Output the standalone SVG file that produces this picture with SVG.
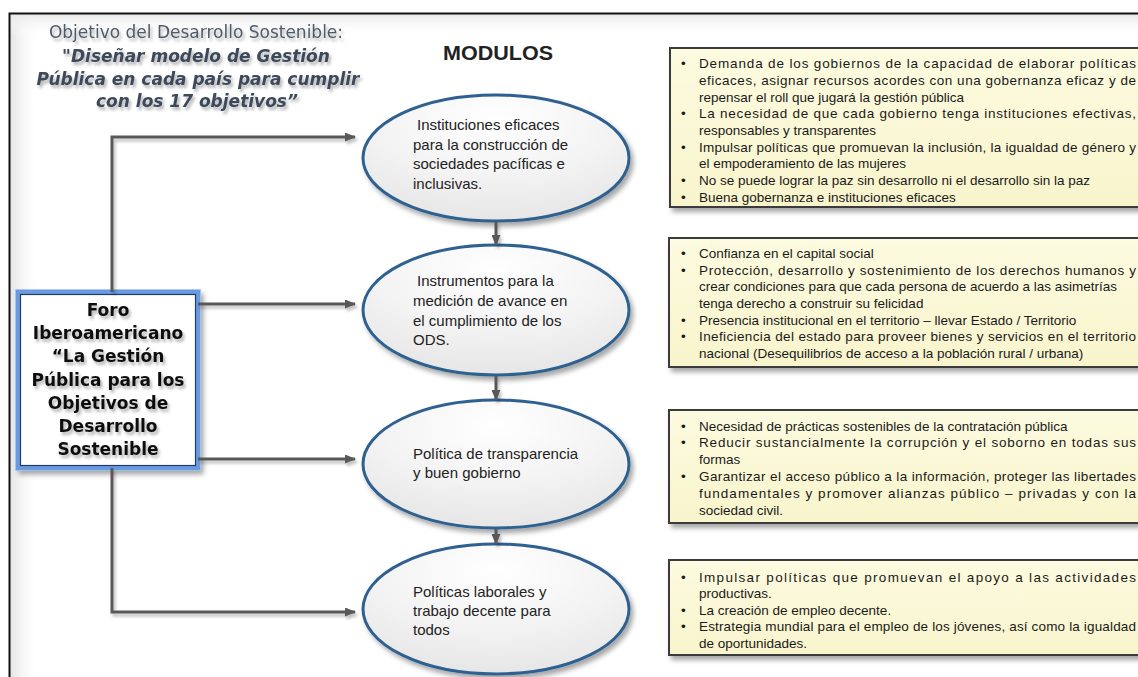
<svg xmlns="http://www.w3.org/2000/svg" width="1138" height="677" viewBox="0 0 1138 677">
<style>
.ttl{font-family:"DejaVu Sans",Verdana,sans-serif;font-size:17px;text-anchor:middle}
.ttl1{fill:#4d5b6b}
.ttl2{fill:#3e4a5a;font-weight:bold;font-style:oblique}
.foro{font-family:"DejaVu Sans",Verdana,sans-serif;font-size:17px;font-weight:bold;fill:#111;text-anchor:middle}
.el{font-family:"Liberation Sans",Arial,sans-serif;font-size:15px;fill:#222}
.bx{font-family:"Liberation Sans",Arial,sans-serif;font-size:13.5px;fill:#1a1a1a}
.ellipse{fill:url(#elg);stroke:#2f6090;stroke-width:3}
.box{fill:url(#bxg);stroke:#3a3a3a;stroke-width:2}
.conn{fill:none;stroke:#595959;stroke-width:3}
</style>
<defs>
<radialGradient id="elg" cx="0.5" cy="0.2" r="0.8">
<stop offset="0" stop-color="#ffffff"/>
<stop offset="0.6" stop-color="#f2f2f2"/>
<stop offset="1" stop-color="#e6e6e6"/>
</radialGradient>
<linearGradient id="bxg" x1="0" y1="0" x2="0" y2="1">
<stop offset="0" stop-color="#fdfbe0"/>
<stop offset="1" stop-color="#f8f4cc"/>
</linearGradient>
<linearGradient id="bgl" x1="0" y1="0" x2="1" y2="0">
<stop offset="0" stop-color="#e4e4e4"/>
<stop offset="1" stop-color="#ffffff" stop-opacity="0"/>
</linearGradient>
<linearGradient id="bgt" x1="0" y1="0" x2="0" y2="1">
<stop offset="0" stop-color="#e8e8e8"/>
<stop offset="1" stop-color="#ffffff" stop-opacity="0"/>
</linearGradient>
<filter id="sh" x="-10%" y="-10%" width="130%" height="140%">
<feDropShadow dx="3" dy="4" stdDeviation="2.5" flood-color="#000" flood-opacity="0.35"/>
</filter>
<filter id="tsh" x="-10%" y="-30%" width="120%" height="180%">
<feDropShadow dx="2" dy="3" stdDeviation="1.6" flood-color="#000" flood-opacity="0.3"/>
</filter>
<filter id="csh" x="-10%" y="-10%" width="130%" height="130%">
<feDropShadow dx="2" dy="3" stdDeviation="1.5" flood-color="#000" flood-opacity="0.25"/>
</filter>
<marker id="arr" markerUnits="userSpaceOnUse" markerWidth="11" markerHeight="9" refX="10" refY="4.5" orient="auto">
<path d="M0,0 L11,4.5 L0,9 z" fill="#595959"/>
</marker>
</defs>
<rect x="0" y="0" width="1138" height="677" fill="#ffffff"/>
<rect x="10" y="14" width="30" height="663" fill="url(#bgl)"/>
<rect x="10" y="14" width="1128" height="22" fill="url(#bgt)"/>
<path d="M9.5,677 V13.5 H1138" fill="none" stroke="#111" stroke-width="2"/>

<g id="title" filter="url(#tsh)">
<text class="ttl ttl1" x="196" y="38">Objetivo del Desarrollo Sostenible:</text>
<text class="ttl ttl2" x="196" y="62">"Diseñar modelo de Gestión</text>
<text class="ttl ttl2" x="198" y="85">Pública en cada país para cumplir</text>
<text class="ttl ttl2" x="197" y="107">con los 17 objetivos”</text>
</g>

<g id="modulos">
<text x="498" y="60" text-anchor="middle" font-family="Liberation Sans, Arial, sans-serif" font-size="21" font-weight="bold" fill="#222" textLength="110" lengthAdjust="spacingAndGlyphs">MODULOS</text>
</g>

<g id="foro">
<rect x="18" y="292" width="180" height="176" fill="#ffffff" stroke="#6b9be0" stroke-width="5" filter="url(#sh)"/>
<rect x="15.5" y="289.5" width="185" height="181" fill="none" stroke="#a9c6ef" stroke-width="1" opacity="0.7"/>
<rect x="20.5" y="294.5" width="175" height="171" fill="none" stroke="#233a63" stroke-width="1.2"/>
<g filter="url(#tsh)">
<text class="foro" x="108" y="316">Foro</text>
<text class="foro" x="108" y="339">Iberoamericano</text>
<text class="foro" x="108" y="362">“La Gestión</text>
<text class="foro" x="108" y="386">Pública para los</text>
<text class="foro" x="108" y="409">Objetivos de</text>
<text class="foro" x="108" y="432">Desarrollo</text>
<text class="foro" x="108" y="455">Sostenible</text>
</g>
</g>

<g id="e1">
<ellipse class="ellipse" cx="496" cy="158" rx="133" ry="63" filter="url(#sh)"/>
<text class="el" x="417" y="130">Instituciones eficaces</text>
<text class="el" x="413" y="150">para la construcción de</text>
<text class="el" x="413" y="169">sociedades pacíficas e</text>
<text class="el" x="413" y="189">inclusivas.</text>
</g>
<g id="e2">
<ellipse class="ellipse" cx="496" cy="310" rx="133" ry="65" filter="url(#sh)"/>
<text class="el" x="417" y="286">Instrumentos para la</text>
<text class="el" x="413" y="306">medición de avance en</text>
<text class="el" x="413" y="326">el cumplimiento de los</text>
<text class="el" x="413" y="345">ODS.</text>
</g>
<g id="e3">
<ellipse class="ellipse" cx="496" cy="464" rx="133" ry="64" filter="url(#sh)"/>
<text class="el" x="413" y="459">Política de transparencia</text>
<text class="el" x="413" y="478">y buen gobierno</text>
</g>
<g id="e4">
<ellipse class="ellipse" cx="496" cy="609" rx="133" ry="65" filter="url(#sh)"/>
<text class="el" x="413" y="597">Políticas laborales y</text>
<text class="el" x="413" y="616">trabajo decente para</text>
<text class="el" x="413" y="635">todos</text>
</g>

<g id="b1">
<rect class="box" x="670" y="48" width="480" height="159" filter="url(#sh)"/>
<g class="bx">
<text x="681" y="68">•</text><text x="699" y="68" textLength="437" lengthAdjust="spacing">Demanda de los gobiernos de la capacidad de elaborar políticas</text>
<text x="699" y="85" textLength="437" lengthAdjust="spacing">eficaces, asignar recursos acordes con una gobernanza eficaz y de</text>
<text x="699" y="101.5">repensar el roll que jugará la gestión pública</text>
<text x="681" y="118">•</text><text x="699" y="118" textLength="437" lengthAdjust="spacing">La necesidad de que cada gobierno tenga instituciones efectivas,</text>
<text x="699" y="135">responsables y transparentes</text>
<text x="681" y="151.5">•</text><text x="699" y="151.5" textLength="437" lengthAdjust="spacing">Impulsar políticas que promuevan la inclusión, la igualdad de género y</text>
<text x="699" y="168">el empoderamiento de las mujeres</text>
<text x="681" y="185">•</text><text x="699" y="185">No se puede lograr la paz sin desarrollo ni el desarrollo sin la paz</text>
<text x="681" y="201.5">•</text><text x="699" y="201.5">Buena gobernanza e instituciones eficaces</text>
</g>
</g>

<g id="b2">
<rect class="box" x="669" y="238" width="480" height="129" filter="url(#sh)"/>
<g class="bx">
<text x="681" y="258">•</text><text x="699" y="258">Confianza en el capital social</text>
<text x="681" y="274.5">•</text><text x="699" y="274.5" textLength="437" lengthAdjust="spacing">Protección, desarrollo y sostenimiento de los derechos humanos y</text>
<text x="699" y="291">crear condiciones para que cada persona de acuerdo a las asimetrías</text>
<text x="699" y="308">tenga derecho a construir su felicidad</text>
<text x="681" y="324.5">•</text><text x="699" y="324.5">Presencia institucional en el territorio – llevar Estado / Territorio</text>
<text x="681" y="341">•</text><text x="699" y="341" textLength="437" lengthAdjust="spacing">Ineficiencia del estado para proveer bienes y servicios en el territorio</text>
<text x="699" y="358">nacional (Desequilibrios de acceso a la población rural / urbana)</text>
</g>
</g>

<g id="b3">
<rect class="box" x="669" y="410" width="480" height="113" filter="url(#sh)"/>
<g class="bx">
<text x="681" y="430.5">•</text><text x="699" y="430.5">Necesidad de prácticas sostenibles de la contratación pública</text>
<text x="681" y="447">•</text><text x="699" y="447" textLength="437" lengthAdjust="spacing">Reducir sustancialmente la corrupción y el soborno en todas sus</text>
<text x="699" y="464">formas</text>
<text x="681" y="481">•</text><text x="699" y="481" textLength="437" lengthAdjust="spacing">Garantizar el acceso público a la información, proteger las libertades</text>
<text x="699" y="497.5" textLength="437" lengthAdjust="spacing">fundamentales y promover alianzas público – privadas y con la</text>
<text x="699" y="514.5">sociedad civil.</text>
</g>
</g>

<g id="b4">
<rect class="box" x="669" y="560" width="480" height="95" filter="url(#sh)"/>
<g class="bx">
<text x="681" y="581.5">•</text><text x="699" y="581.5" textLength="437" lengthAdjust="spacing">Impulsar políticas que promuevan el apoyo a las actividades</text>
<text x="699" y="598">productivas.</text>
<text x="681" y="614.5">•</text><text x="699" y="614.5">La creación de empleo decente.</text>
<text x="681" y="631">•</text><text x="699" y="631" textLength="437" lengthAdjust="spacing">Estrategia mundial para el empleo de los jóvenes, así como la igualdad</text>
<text x="699" y="648">de oportunidades.</text>
</g>
</g>

<g id="connectors" filter="url(#csh)">
<path class="conn" d="M112,292 V137 H355" marker-end="url(#arr)"/>
<path class="conn" d="M198,304 H355" marker-end="url(#arr)"/>
<path class="conn" d="M198,459 H355" marker-end="url(#arr)"/>
<path class="conn" d="M112,468 V612 H355" marker-end="url(#arr)"/>
<path class="conn" d="M496,222 V245" stroke-width="2.5" marker-end="url(#arr)"/>
<path class="conn" d="M496,376 V400" stroke-width="2.5" marker-end="url(#arr)"/>
<path class="conn" d="M496,529 V544" stroke-width="2.5" marker-end="url(#arr)"/>
</g>
</svg>
